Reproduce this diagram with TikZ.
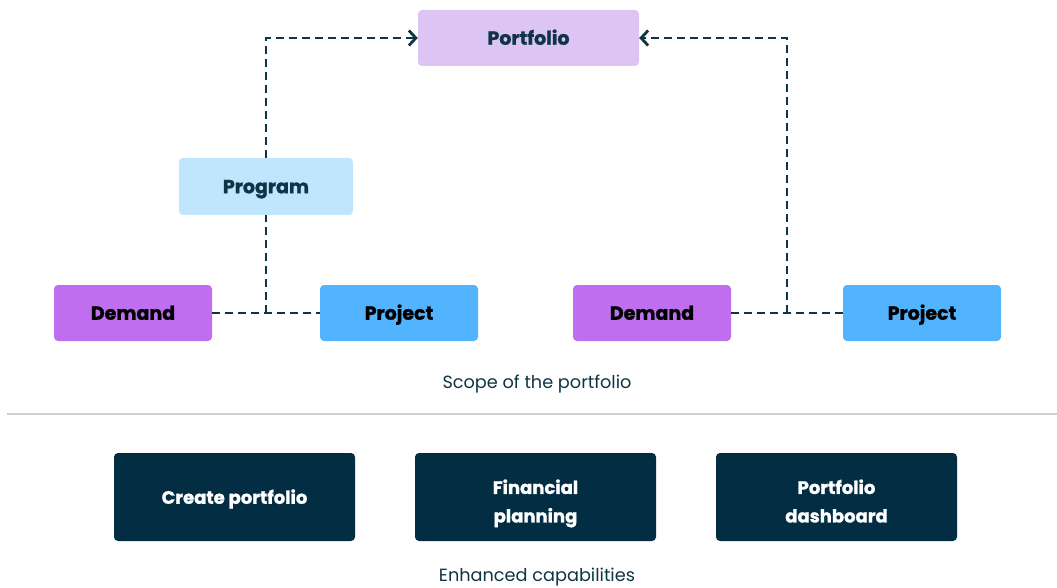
\documentclass[tikz,border=0pt]{standalone}
\usepackage{fontspec}
\setmainfont{Poppins}[BoldFeatures={FakeBold=1.3}]
\usetikzlibrary{arrows.meta}
\definecolor{navy}{HTML}{032D42}
\definecolor{txtnavy}{HTML}{0F3446}
\definecolor{portf}{HTML}{DCC4F4}
\definecolor{progc}{HTML}{C0E6FE}
\definecolor{demc}{HTML}{BF6EF0}
\definecolor{projc}{HTML}{52B4FF}
\definecolor{sepc}{HTML}{CFCFCF}
\newcommand{\lowerby}[2]{\raisebox{-#1}[\height][\depth]{#2}}
\tikzset{
  x=1pt,y=-1pt,
  box/.style={rounded corners=4pt, inner sep=0pt, anchor=center, text height=13.5pt, text depth=0pt, font=\fontsize{19}{22}\selectfont\bfseries},
  topbox/.style={box, minimum width=221pt, minimum height=56pt, fill=portf, text=txtnavy},
  progbox/.style={box, minimum width=174pt, minimum height=57pt, fill=progc, text=txtnavy},
  dembox/.style={box, minimum width=158pt, minimum height=56pt, fill=demc, text=black},
  projbox/.style={box, minimum width=158pt, minimum height=56pt, fill=projc, text=black},
  capbox/.style={rounded corners=4pt, inner sep=0pt, minimum width=241pt, minimum height=88pt, fill=navy, text=white, align=center, font=\fontsize{18}{28.5}\selectfont\bfseries},
  conn/.style={draw=txtnavy, line width=2.8pt, dash pattern=on 8pt off 5pt},
  arr/.style={conn, -{Straight Barb[length=7pt,width=15pt,line width=2.8pt]}},
  lbl/.style={text=txtnavy, inner sep=0pt, font=\fontsize{17.7}{20}\selectfont}
}
\begin{document}
\begin{tikzpicture}
\useasboundingbox (0,0) rectangle (1057,588);
\node[topbox] (portfolio) at (528.5,38) {Portfolio};
\node[progbox] (program) at (266,186.5) {Program};
\node[dembox] (demL) at (133,313) {Demand};
\node[projbox] (projL) at (399,313) {Project};
\node[dembox] (demR) at (652,313) {Demand};
\node[projbox] (projR) at (922,313) {Project};
\coordinate (jL) at (266,313);
\coordinate (cL) at (266,38);
\coordinate (jR) at (787,313);
\coordinate (cR) at (787,38);
\draw[conn] (demL.east) -- (projL.west);
\draw[conn] (jL) -- (program.south);
\draw[arr] (program.north) -- (cL) -- (portfolio.west);
\draw[conn] (demR.east) -- (projR.west);
\draw[arr] (jR) -- (cR) -- (portfolio.east);
\node[lbl] (scope) at (537,384) {Scope of the portfolio};
\coordinate (sepA) at (7,414);
\coordinate (sepB) at (1057,414);
\draw[sepc, line width=1.2pt] (sepA) -- (sepB);
\node[capbox] (create) at (234.5,497) {\lowerby{2pt}{Create portfolio}};
\node[capbox] (fin) at (535.5,497) {\lowerby{5.5pt}{\begin{tabular}{@{}c@{}}Financial\\planning\end{tabular}}};
\node[capbox] (dash) at (836.5,497) {\lowerby{5.5pt}{\begin{tabular}{@{}c@{}}Portfolio\\dashboard\end{tabular}}};
\node[lbl] (enh) at (537,577) {Enhanced capabilities};
\end{tikzpicture}
\end{document}
